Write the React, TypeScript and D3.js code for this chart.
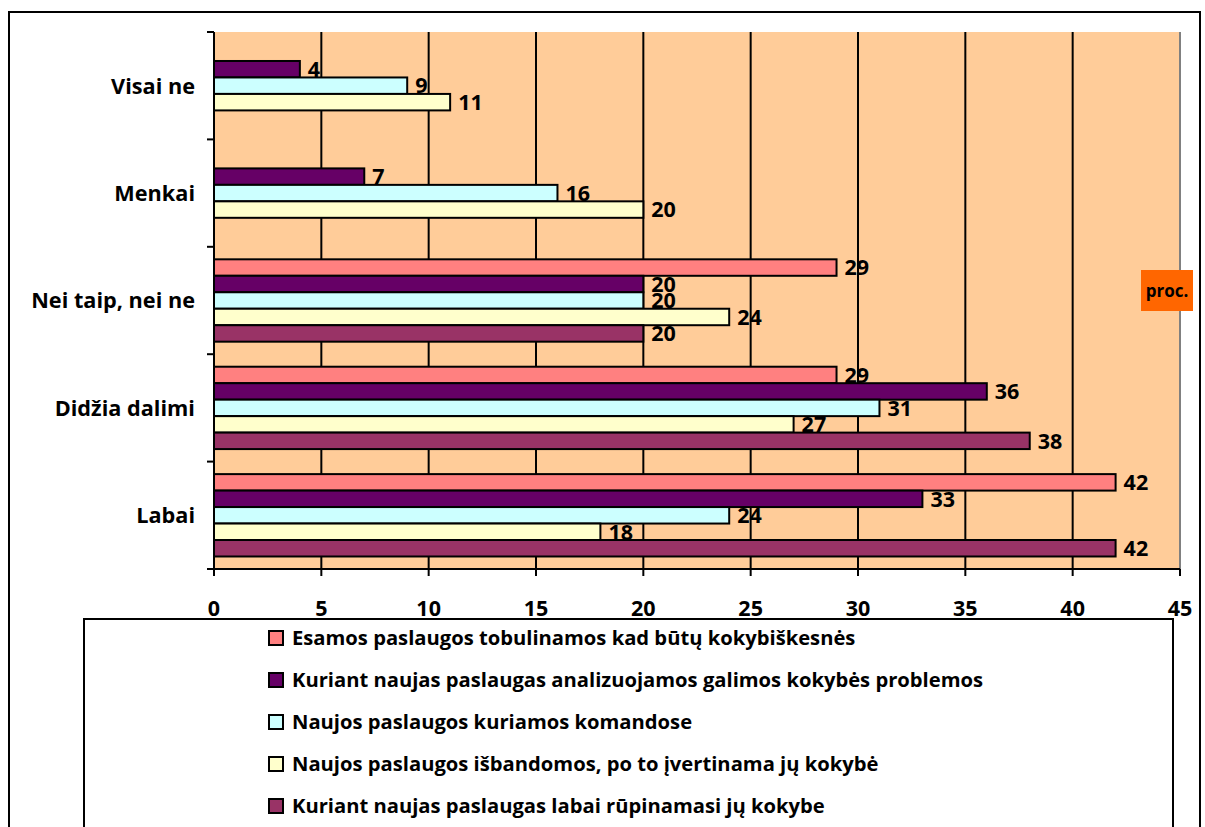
import React from "react";
import * as d3 from "d3";

const categories = ["Visai ne", "Menkai", "Nei taip, nei ne", "Didžia dalimi", "Labai"];
const seriesNames = [
  "Esamos paslaugos tobulinamos kad būtų kokybiškesnės",
  "Kuriant naujas paslaugas analizuojamos galimos kokybės problemos",
  "Naujos paslaugos kuriamos komandose",
  "Naujos paslaugos išbandomos, po to įvertinama jų kokybė",
  "Kuriant naujas paslaugas labai rūpinamasi jų kokybe",
];
const seriesColors = ["#FF8080", "#660066", "#CCFFFF", "#FFFFCC", "#993366"];
// values per series, in category order (null = no answer shown)
const esamos: (number | null)[] = [null, null, 29, 29, 42];
const analizuojamos: (number | null)[] = [4, 7, 20, 36, 33];
const komandose: (number | null)[] = [9, 16, 20, 31, 24];
const isbandomos: (number | null)[] = [11, 20, 24, 27, 18];
const rupinamasi: (number | null)[] = [null, null, 20, 38, 42];
const seriesValues = [esamos, analizuojamos, komandose, isbandomos, rupinamasi];
const xTicks = [0, 5, 10, 15, 20, 25, 30, 35, 40, 45];
const unitLabel = "proc.";

const FONT = "'Open Sans', Lato, sans-serif";

export default function App() {
  const W = 1205;
  const H = 827;
  const left = 214;
  const right = 1180;
  const top = 32;
  const bottom = 569;

  const x = d3.scaleLinear().domain([0, 45]).range([left, right]);
  const y = d3.scaleBand<string>().domain(categories).range([top, bottom]).padding(0);
  const inner = d3
    .scaleBand<string>()
    .domain(seriesNames)
    .range([0, y.bandwidth()])
    .paddingInner(0)
    .paddingOuter(0.76);

  const legendRowY = (i: number) => 638 + i * 42;

  return (
    <svg
      width={W}
      height={H}
      style={{ position: "absolute", left: 0, top: 0, fontFamily: FONT }}
    >
      <rect x={0} y={0} width={W} height={H} fill="#fff" />
      {/* outer chart frame */}
      <rect x={9} y={12} width={1191} height={H} fill="none" stroke="#000" strokeWidth={2} />

      {/* plot area */}
      <rect x={left} y={top} width={right - left} height={bottom - top} fill="#FFCC99" />
      <line x1={right} x2={right} y1={top} y2={bottom} stroke="#808080" strokeWidth={2} />
      {xTicks.slice(1, -1).map((t) => (
        <line key={t} x1={x(t)} x2={x(t)} y1={top} y2={bottom} stroke="#000" strokeWidth={2} />
      ))}

      {/* bars */}
      {categories.map((c, ci) => (
        <g key={c}>
          {seriesNames.map((s, si) => {
            const v = seriesValues[si][ci];
            if (v == null) return null;
            const by = (y(c) as number) + (inner(s) as number);
            const bh = inner.bandwidth();
            return (
              <g key={s}>
                <rect
                  x={x(0)}
                  y={by}
                  width={x(v) - x(0)}
                  height={bh}
                  fill={seriesColors[si]}
                  stroke="#000"
                  strokeWidth={2}
                />
                <text
                  x={x(v) + 8}
                  y={by + bh / 2}
                  dy="0.36em"
                  fontSize={21.5}
                  fontWeight={700}
                  fill="#000"
                >
                  {v}
                </text>
              </g>
            );
          })}
        </g>
      ))}

      {/* y axis */}
      <line x1={left} x2={left} y1={top} y2={bottom} stroke="#000" strokeWidth={2} />
      {d3.range(categories.length + 1).map((i) => {
        const ty = top + i * y.step();
        return <line key={i} x1={left - 7} x2={left} y1={ty} y2={ty} stroke="#000" strokeWidth={2} />;
      })}
      {categories.map((c) => (
        <text
          key={c}
          x={195}
          y={(y(c) as number) + y.bandwidth() / 2}
          dy="0.36em"
          textAnchor="end"
          fontSize={21.7}
          fontWeight={700}
        >
          {c}
        </text>
      ))}

      {/* x axis */}
      <line x1={left - 7} x2={right} y1={bottom} y2={bottom} stroke="#000" strokeWidth={2} />
      {xTicks.map((t) => (
        <g key={t}>
          <line x1={x(t)} x2={x(t)} y1={bottom} y2={bottom + 7} stroke="#000" strokeWidth={2} />
          <text x={x(t)} y={616} textAnchor="middle" fontSize={21.5} fontWeight={700}>
            {t}
          </text>
        </g>
      ))}

      {/* unit label */}
      <rect x={1141} y={270} width={52} height={41} fill="#FF6600" />
      <text x={1167} y={290.5} dy="0.36em" textAnchor="middle" fontSize={17} fontWeight={700}>
        {unitLabel}
      </text>

      {/* legend */}
      <rect x={84} y={619} width={1089} height={H} fill="#fff" stroke="#000" strokeWidth={2} />
      {seriesNames.map((s, i) => (
        <g key={s}>
          <rect
            x={269}
            y={legendRowY(i) - 7}
            width={14}
            height={14}
            fill={seriesColors[i]}
            stroke="#000"
            strokeWidth={2}
          />
          <text x={292} y={legendRowY(i)} dy="0.36em" fontSize={20.2} fontWeight={700}>
            {s}
          </text>
        </g>
      ))}
    </svg>
  );
}
